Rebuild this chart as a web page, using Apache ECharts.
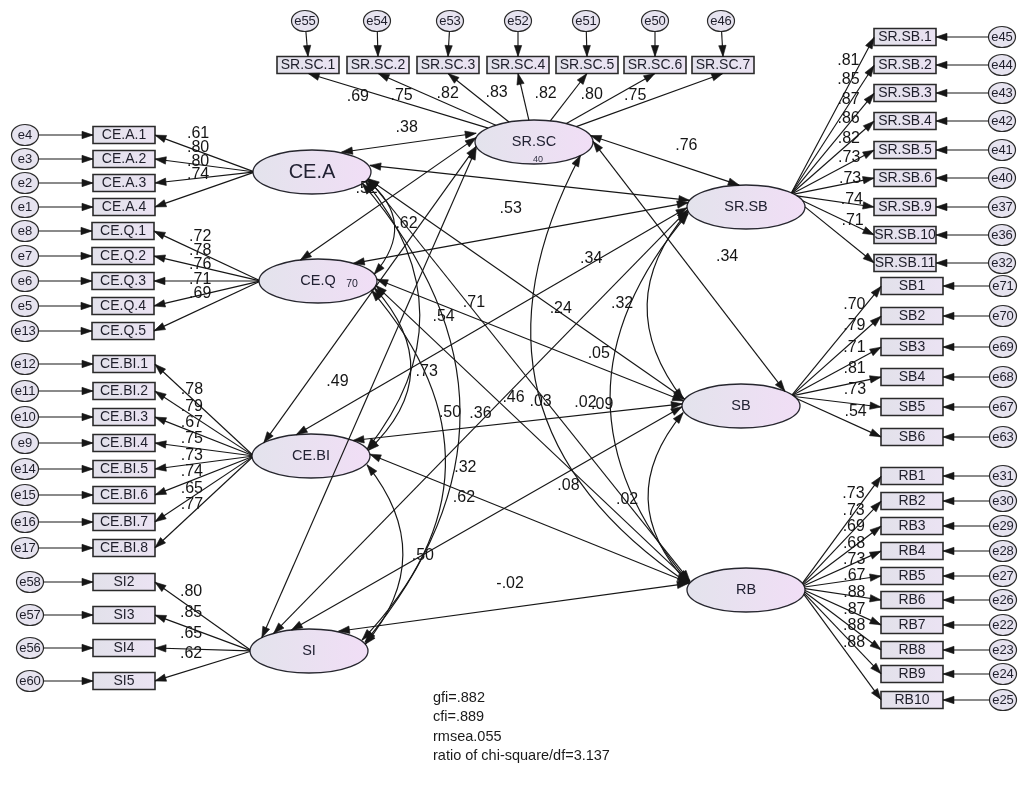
<!DOCTYPE html>
<html>
<head>
<meta charset="utf-8">
<title>SEM path diagram</title>
<script src="https://cdn.jsdelivr.net/npm/echarts@6/dist/echarts.min.js"></script>
<style>
html,body{margin:0;padding:0;background:#ffffff;}
#chart{width:1022px;height:789px;}
</style>
</head>
<body>
<div id="chart"></div>
<script>
// ===================== DATA =====================
// latent constructs (positions in diagram units)
const latentNames = ['CE.A','CE.Q','CE.BI','SI','SR.SC','SR.SB','SB','RB'];
const latentX     = [312, 318, 311, 309, 534, 746, 741, 746];
const latentY     = [172, 281, 456, 651, 142, 207, 406, 590];
const latentR2    = ['', '70', '', '', '40', '', '', ''];

// CE.A
const ceaItems    = ['CE.A.1','CE.A.2','CE.A.3','CE.A.4'];
const ceaErrors   = ['e4','e3','e2','e1'];
const ceaLoadings = ['.61','.80','.80','.74'];
const ceaRows     = [135,159,183,207];
// CE.Q
const ceqItems    = ['CE.Q.1','CE.Q.2','CE.Q.3','CE.Q.4','CE.Q.5'];
const ceqErrors   = ['e8','e7','e6','e5','e13'];
const ceqLoadings = ['.72','.78','.76','.71','.69'];
const ceqRows     = [231,256,281,306,331];
// CE.BI
const cebiItems    = ['CE.BI.1','CE.BI.2','CE.BI.3','CE.BI.4','CE.BI.5','CE.BI.6','CE.BI.7','CE.BI.8'];
const cebiErrors   = ['e12','e11','e10','e9','e14','e15','e16','e17'];
const cebiLoadings = ['.78','.79','.67','.75','.73','.74','.65','.77'];
const cebiRows     = [364,391,417,443,469,495,522,548];
// SI
const siItems    = ['SI2','SI3','SI4','SI5'];
const siErrors   = ['e58','e57','e56','e60'];
const siLoadings = ['.80','.85','.65','.62'];
const siRows     = [582,615,648,681];
// SR.SC
const scItems    = ['SR.SC.1','SR.SC.2','SR.SC.3','SR.SC.4','SR.SC.5','SR.SC.6','SR.SC.7'];
const scErrors   = ['e55','e54','e53','e52','e51','e50','e46'];
const scLoadings = ['.69','.75','.82','.83','.82','.80','.75'];
const scCols     = [308,378,448,518,587,655,723];
const scErrCols  = [305,377,450,518,586,655,721];
// SR.SB
const ssbItems    = ['SR.SB.1','SR.SB.2','SR.SB.3','SR.SB.4','SR.SB.5','SR.SB.6','SR.SB.9','SR.SB.10','SR.SB.11'];
const ssbErrors   = ['e45','e44','e43','e42','e41','e40','e37','e36','e32'];
const ssbLoadings = ['.81','.85','.87','.86','.82','.73','.73','.74','.71'];
const ssbRows     = [37,65,93,121,150,178,207,235,263];
// SB
const sbItems    = ['SB1','SB2','SB3','SB4','SB5','SB6'];
const sbErrors   = ['e71','e70','e69','e68','e67','e63'];
const sbLoadings = ['.70','.79','.71','.81','.73','.54'];
const sbRows     = [286,316,347,377,407,437];
// RB
const rbItems    = ['RB1','RB2','RB3','RB4','RB5','RB6','RB7','RB8','RB9','RB10'];
const rbErrors   = ['e31','e30','e29','e28','e27','e26','e22','e23','e24','e25'];
const rbLoadings = ['.73','.73','.69','.68','.73','.67','.88','.87','.88','.88'];
const rbRows     = [476,501,526,551,576,600,625,650,674,700];

// correlations between latent constructs
const corrFrom   = ['CE.A','CE.A','CE.A','CE.A','CE.A','CE.A','CE.A',
                    'CE.Q','CE.Q','CE.Q','CE.Q','CE.Q','CE.Q',
                    'CE.BI','CE.BI','CE.BI','CE.BI','CE.BI',
                    'SI','SI','SI','SI',
                    'SR.SC','SR.SC','SR.SC',
                    'SR.SB','SR.SB',
                    'SB'];
const corrTo     = ['CE.Q','CE.BI','SI','SR.SC','SR.SB','SB','RB',
                    'CE.BI','SI','SR.SC','SR.SB','SB','RB',
                    'SI','SR.SC','SR.SB','SB','RB',
                    'SR.SC','SR.SB','SB','RB',
                    'SR.SB','SB','RB',
                    'SB','RB',
                    'RB'];
const corrValues = ['.62','.52','.50','.38','.53','.05','.54',
                    '.73','.32','','.34','.71','.46',
                    '.50','.49','.24','.02','.62',
                    '','.36','.08','-.02',
                    '.76','.34','.03',
                    '.32','.09',
                    '.02'];

const fitLines = ['gfi=.882','cfi=.889','rmsea.055','ratio of chi-square/df=3.137'];

// ===================== STYLE / LAYOUT =====================
const FONT = '"Liberation Sans", Arial, Helvetica, sans-serif';
const INK = '#161616';
const SIZE = {
  latent: {rx: 59, ry: 22},
  box: {hw: 31, hh: 8.5},
  err: {rx: 13.5, ry: 10.5}
};
// curvature of each correlation path (same order as corrFrom)
const corrCurve = [0.52,0.40,0.42,0,0,0,0,
                   0.49,0.45,0,0,0,0,
                   0.41,0,0,0,0,
                   0,0,0,0,
                   0,0,-0.45,
                   -0.41,-0.425,
                   -0.44];
// attachment points (fractions of the node radii) for each correlation path
const corrAnchor = [
  [[0.9,0.3],[0.95,-0.3]], [[0.9,0.4],[0.95,-0.3]], [[0.85,0.5],[0.95,-0.4]], [[0.5,-0.9],[-0.98,-0.4]],
  [[0.98,-0.3],[-0.95,-0.3]], [[0.95,0.3],[-0.95,-0.3]], [[0.95,0.3],[-0.95,-0.4]],
  [[0.95,0.3],[0.95,-0.2]], [[0.9,0.4],[0.9,-0.5]], [[-0.3,-0.95],[-0.98,-0.2]], [[0.6,-0.8],[-0.98,-0.2]],
  [[0.98,-0.1],[-0.95,-0.2]], [[0.98,0.2],[-0.95,-0.35]],
  [[0.95,0.4],[0.95,-0.3]], [[-0.8,-0.6],[-0.98,0.2]], [[-0.25,-0.97],[-0.98,0]], [[0.7,-0.7],[-0.98,-0.1]], [[0.98,-0.1],[-0.95,-0.3]],
  [[-0.8,-0.6],[-0.98,0.3]], [[-0.6,-0.8],[-0.98,0.1]], [[-0.3,-0.95],[-0.98,0]], [[0.5,-0.9],[-0.98,-0.3]],
  [[0.95,-0.3],[-0.1,-0.98]], [[0.98,-0.1],[0.75,-0.65]], [[0.8,0.55],[-0.98,-0.3]],
  [[-0.98,0.2],[-0.98,-0.3]], [[-0.98,0.3],[-0.98,-0.4]],
  [[-0.98,0.3],[-0.98,-0.3]]
];
// label placement: [position along path, perpendicular offset]
const corrLabel = [
  [0.5,-12],[0.02,-4],[0.5,10],[0.5,15],[0.45,-28],[0.75,-12],[0.3,-27],
  [0.5,-16],[0.5,-20],[0.5,0],[0.69,-38],[0.3,14],[0.41,13],
  [0.5,-20],[0.255,-24],[0.646,-24],[0.71,12],[0.3,-5],
  [0.5,0],[0.51,6],[0.694,-12],[0.5,24],
  [0.6,21],[0.55,36],[0.52,0],
  [0.5,25],[0.52,8],
  [0.5,21]
];

const groups = [
  {latent:'CE.A',  items:ceaItems,  errors:ceaErrors,  loads:ceaLoadings,  rows:ceaRows},
  {latent:'CE.Q',  items:ceqItems,  errors:ceqErrors,  loads:ceqLoadings,  rows:ceqRows},
  {latent:'CE.BI', items:cebiItems, errors:cebiErrors, loads:cebiLoadings, rows:cebiRows},
  {latent:'SI',    items:siItems,   errors:siErrors,   loads:siLoadings,   rows:siRows},
  {latent:'SR.SC', items:scItems,   errors:scErrors,   loads:scLoadings,   rows:scCols, errRows:scErrCols},
  {latent:'SR.SB', items:ssbItems,  errors:ssbErrors,  loads:ssbLoadings,  rows:ssbRows},
  {latent:'SB',    items:sbItems,   errors:sbErrors,   loads:sbLoadings,   rows:sbRows},
  {latent:'RB',    items:rbItems,   errors:rbErrors,   loads:rbLoadings,   rows:rbRows}
];
const groupLayout = {
  'CE.A':  {side:'left',  boxX:124, errX:25,   s:0.56, off:17, mode:'vup',   anchor:[-0.97,0]},
  'CE.Q':  {side:'left',  boxX:123, errX:25,   s:0.56, off:16, mode:'vup',   anchor:[-0.97,0]},
  'CE.BI': {side:'left',  boxX:124, errX:25,   s:0.62, off:9,  mode:'vup',   anchor:[-0.97,0]},
  'SI':    {side:'left',  boxX:124, errX:30,   s:0.62, off:16, mode:'vup',   anchor:[-0.97,0]},
  'SR.SC': {side:'top',   boxY:65,  errY:21,   s:0.58, off:26, mode:'hleft', anchor:[0,0]},
  'SR.SB': {side:'right', boxX:905, errX:1002, s:0.69, off:25, mode:'vup',   anchor:[0.75,-0.55]},
  'SB':    {side:'right', boxX:912, errX:1003, s:0.7,  off:14, mode:'vup',   anchor:[0.85,-0.45]},
  'RB':    {side:'right', boxX:912, errX:1003, s:0.65, off:20, mode:'vup',   anchor:[0.9,-0.1]}
};
const boxInAnchor  = {left:[0.99,0], top:[0,0.99], right:[-0.99,0]};
const boxErrAnchor = {left:[-0.99,0], top:[0,-0.99], right:[0.99,0]};

// ===================== BUILD NODES & EDGES =====================
const nodes = [];
const nodeMap = {};
function addNode(n){ nodes.push(n); nodeMap[n.name] = n; }
latentNames.forEach((nm,i)=>addNode({name:nm, x:latentX[i], y:latentY[i], kind:'latent', r2:latentR2[i]}));
groups.forEach(g=>{
  const L = groupLayout[g.latent];
  g.items.forEach((it,i)=>{
    if (L.side === 'top') {
      addNode({name:it, x:g.rows[i], y:L.boxY, kind:'box'});
      addNode({name:g.errors[i], x:g.errRows[i], y:L.errY, kind:'err'});
    } else {
      addNode({name:it, x:L.boxX, y:g.rows[i], kind:'box'});
      addNode({name:g.errors[i], x:L.errX, y:g.rows[i], kind:'err'});
    }
  });
});

const edges = [];
groups.forEach(g=>{
  const L = groupLayout[g.latent];
  g.items.forEach((it,i)=>{
    edges.push({from:g.latent, to:it, c:0, a0:L.anchor, a1:boxInAnchor[L.side], arrows:[false,true],
                label:g.loads[i], s:L.s, off:L.off, mode:L.mode});
    edges.push({from:g.errors[i], to:it, c:0, a0:[0,0], a1:boxErrAnchor[L.side], arrows:[false,true], label:''});
  });
});
corrFrom.forEach((f,i)=>{
  edges.push({from:f, to:corrTo[i], c:corrCurve[i], a0:corrAnchor[i][0], a1:corrAnchor[i][1], arrows:[true,true],
              label:corrValues[i], s:corrLabel[i][0], off:corrLabel[i][1], mode:'up'});
});

// ===================== GEOMETRY HELPERS =====================
function qpt(p0,p1,p2,t){const u=1-t;return [u*u*p0[0]+2*u*t*p1[0]+t*t*p2[0], u*u*p0[1]+2*u*t*p1[1]+t*t*p2[1]];}
function qtan(p0,p1,p2,t){const u=1-t;return [2*u*(p1[0]-p0[0])+2*t*(p2[0]-p1[0]), 2*u*(p1[1]-p0[1])+2*t*(p2[1]-p1[1])];}
function blossom(p0,p1,p2,a,b){const w0=(1-a)*(1-b), w1=(1-a)*b+a*(1-b), w2=a*b;
  return [w0*p0[0]+w1*p1[0]+w2*p2[0], w0*p0[1]+w1*p1[1]+w2*p2[1]];}
function shapeOf(n,c){
  if (n.kind==='box') return {type:'rect', cx:c[0], cy:c[1], ex:SIZE.box.hw, ey:SIZE.box.hh};
  const s = n.kind==='latent' ? SIZE.latent : SIZE.err;
  return {type:'ellipse', cx:c[0], cy:c[1], ex:s.rx, ey:s.ry};
}
function inside(sh,p){
  const dx=p[0]-sh.cx, dy=p[1]-sh.cy;
  if (sh.type==='rect') return Math.abs(dx)<=sh.ex && Math.abs(dy)<=sh.ey;
  return dx*dx/(sh.ex*sh.ex)+dy*dy/(sh.ey*sh.ey)<=1;
}
function edgeGeom(e, api){
  const A=nodeMap[e.from], B=nodeMap[e.to];
  const ca=api.coord([A.x,A.y]), cb=api.coord([B.x,B.y]);
  const sa=shapeOf(A,ca), sb=shapeOf(B,cb);
  const p0=[ca[0]+e.a0[0]*sa.ex, ca[1]+e.a0[1]*sa.ey];
  const p2=[cb[0]+e.a1[0]*sb.ex, cb[1]+e.a1[1]*sb.ey];
  const dx=p2[0]-p0[0], dy=p2[1]-p0[1];
  const p1=[(p0[0]+p2[0])/2 + e.c*dy, (p0[1]+p2[1])/2 - e.c*dx];
  let t0=0, t1=1;
  if (inside(sa,p0)) { let lo=0, hi=0.5; for(let k=0;k<40;k++){const m=(lo+hi)/2; if(inside(sa,qpt(p0,p1,p2,m))) lo=m; else hi=m;} t0=hi; }
  if (inside(sb,p2)) { let lo=0.5, hi=1; for(let k=0;k<40;k++){const m=(lo+hi)/2; if(inside(sb,qpt(p0,p1,p2,m))) hi=m; else lo=m;} t1=lo; }
  return {S:qpt(p0,p1,p2,t0), Q:blossom(p0,p1,p2,t0,t1), E:qpt(p0,p1,p2,t1)};
}
function arrowHead(tip, back){
  let ux=tip[0]-back[0], uy=tip[1]-back[1];
  const l=Math.hypot(ux,uy)||1; ux/=l; uy/=l;
  const L=11, w=3.7;
  const bx=tip[0]-ux*L, by=tip[1]-uy*L;
  return {type:'polygon', shape:{points:[[tip[0],tip[1]],[bx-uy*w,by+ux*w],[bx+uy*w,by-ux*w]]},
          style:{fill:INK, stroke:INK, lineWidth:0.6}};
}
function labelPos(g, s, off, mode){
  const P=qpt(g.S,g.Q,g.E,s);
  if (mode==='vup') return [P[0], P[1]-off];
  if (mode==='hleft') return [P[0]-off, P[1]];
  const T=qtan(g.S,g.Q,g.E,s);
  const l=Math.hypot(T[0],T[1])||1, tx=T[0]/l, ty=T[1]/l;
  let n=[-ty,tx];
  if (Math.abs(n[1])<0.15) { if (n[0]>0) n=[ty,-tx]; }
  else if (n[1]>0) n=[ty,-tx];
  return [P[0]+n[0]*off, P[1]+n[1]*off];
}
function txt(str,x,y,size,color){
  return {type:'text', style:{text:str, x:x, y:y, fill:color||'#1a1a1a', font:size+'px '+FONT,
          textAlign:'center', textVerticalAlign:'middle', align:'center', verticalAlign:'middle'}};
}
function grad(c1,c2){
  return new echarts.graphic.LinearGradient(0,0,1,0,[{offset:0,color:c1},{offset:1,color:c2}]);
}

// ===================== RENDERERS =====================
function renderNode(params, api){
  const n = nodes[params.dataIndex];
  const c = api.coord([n.x, n.y]);
  const ch = [];
  if (n.kind==='latent') {
    ch.push({type:'ellipse', shape:{cx:c[0], cy:c[1], rx:SIZE.latent.rx, ry:SIZE.latent.ry},
             style:{fill:grad('#e3e3ec','#f1def6'), stroke:'#26262e', lineWidth:1.3}});
    ch.push(txt(n.name, c[0], c[1], n.name==='CE.A'?20:14.5, '#222233'));
    if (n.r2) {
      if (n.name==='SR.SC') ch.push(txt(n.r2, c[0]+4, c[1]+18, 9, '#333344'));
      else ch.push(txt(n.r2, c[0]+34, c[1]+3, 10.5, '#222233'));
    }
  } else if (n.kind==='box') {
    ch.push({type:'rect', shape:{x:c[0]-SIZE.box.hw, y:c[1]-SIZE.box.hh, width:SIZE.box.hw*2, height:SIZE.box.hh*2},
             style:{fill:grad('#e2e1ea','#ebe3f3'), stroke:'#2a2a2a', lineWidth:1.6}});
    ch.push(txt(n.name, c[0], c[1]+0.5, 14, '#1e1e2a'));
  } else {
    ch.push({type:'ellipse', shape:{cx:c[0], cy:c[1], rx:SIZE.err.rx, ry:SIZE.err.ry},
             style:{fill:'#e6e3ef', stroke:'#2a2a2a', lineWidth:1.2}});
    ch.push(txt(n.name, c[0], c[1]+0.5, 13, '#1e1e2a'));
  }
  return {type:'group', children:ch};
}
function renderEdge(params, api){
  const e = edges[params.dataIndex];
  const g = edgeGeom(e, api);
  const ch = [];
  ch.push({type:'bezierCurve', shape:{x1:g.S[0], y1:g.S[1], x2:g.E[0], y2:g.E[1], cpx1:g.Q[0], cpy1:g.Q[1]},
           style:{stroke:INK, lineWidth:1.15, fill:'none'}});
  if (e.arrows[1]) ch.push(arrowHead(g.E, g.Q));
  if (e.arrows[0]) ch.push(arrowHead(g.S, g.Q));
  if (e.label) {
    const p = labelPos(g, e.s, e.off, e.mode);
    ch.push(txt(e.label, p[0], p[1], 16, '#151515'));
  }
  return {type:'group', children:ch};
}

// ===================== CHART =====================
const chart = echarts.init(document.getElementById('chart'), null, {renderer:'canvas'});
chart.setOption({
  backgroundColor:'#ffffff',
  animation:false,
  grid:{left:0, right:0, top:0, bottom:0, containLabel:false},
  xAxis:{type:'value', min:0, max:1022, show:false},
  yAxis:{type:'value', min:0, max:789, inverse:true, show:false},
  graphic:[{
    type:'text', left:433, top:688,
    style:{text:fitLines.join('\n'), font:'14.5px '+FONT, fill:'#1a1a1a', lineHeight:19.5}
  }],
  series:[
    {type:'custom', name:'nodes', silent:true, clip:false, z:2,
     data:nodes.map(n=>[n.x,n.y]), encode:{x:0,y:1}, renderItem:renderNode},
    {type:'custom', name:'paths', silent:true, clip:false, z:3,
     data:edges.map(e=>[nodeMap[e.from].x,nodeMap[e.from].y,nodeMap[e.to].x,nodeMap[e.to].y]),
     encode:{x:[0,2], y:[1,3]}, renderItem:renderEdge}
  ]
});
</script>
</body>
</html>
